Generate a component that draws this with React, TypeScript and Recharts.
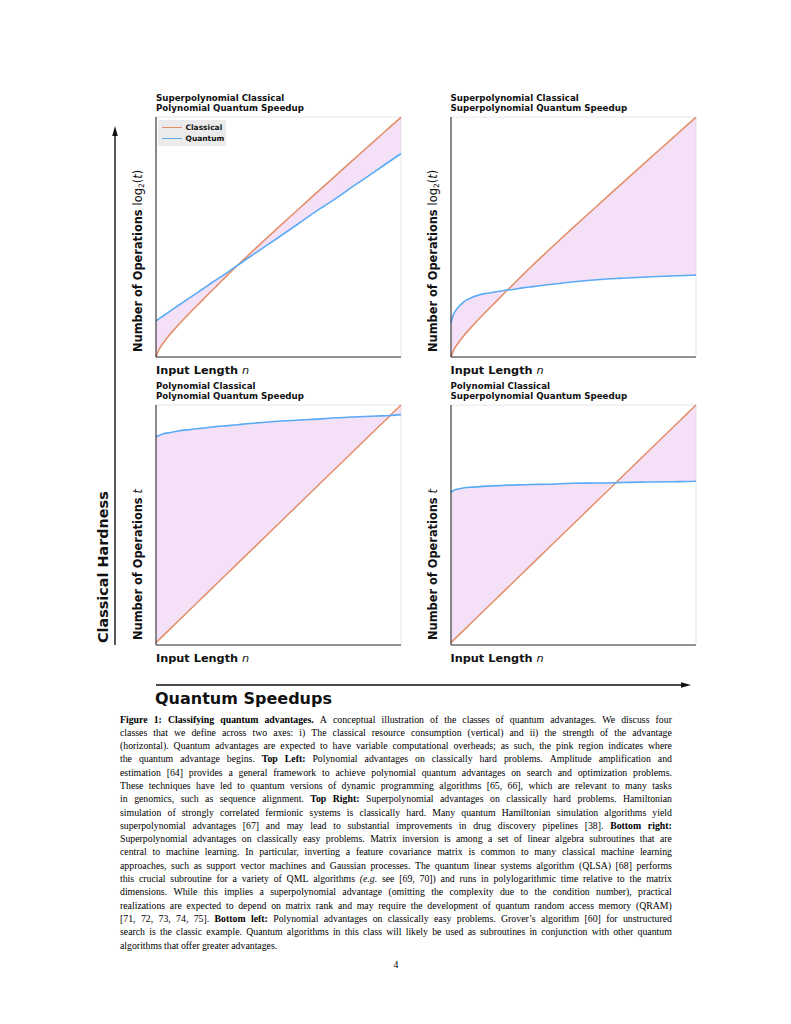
import React from 'react';
import { Area, CartesianGrid, ComposedChart, Line, XAxis, YAxis } from 'recharts';

const nValues = [0.05, 0.1, 0.2, 0.3, 0.5, 0.75, 1, 1.19, 1.25, 1.5, 1.7, 2, 2.5, 3, 3.38, 3.5, 4, 4.5, 4.78, 5];

// top row: log2(t)
const classicalLog = [0.11, 0.32, 0.57, 0.78, 1.14, 1.56, 1.96, 2.27, 2.36, 2.76, 3.07, 3.52, 4.26, 4.98, 5.53, 5.7, 6.42, 7.13, 7.53, 7.84];
const quantumPolyLog = [1.28, 1.33, 1.44, 1.55, 1.77, 2.04, 2.31, 2.52, 2.58, 2.85, 3.07, 3.4, 3.94, 4.49, 4.91, 5.03, 5.58, 6.12, 6.43, 6.67];
const quantumSuperLog = [1.23, 1.48, 1.72, 1.88, 2.05, 2.16, 2.22, 2.27, 2.28, 2.34, 2.38, 2.44, 2.53, 2.6, 2.64, 2.65, 2.69, 2.72, 2.74, 2.75];

// bottom row: t
const classicalLinear = [0.05, 0.1, 0.2, 0.3, 0.5, 0.75, 1, 1.19, 1.25, 1.5, 1.7, 2, 2.5, 3, 3.38, 3.5, 4, 4.5, 4.78, 5];
const quantumPolyT = [4.34, 4.36, 4.4, 4.42, 4.46, 4.49, 4.52, 4.54, 4.55, 4.57, 4.59, 4.62, 4.66, 4.69, 4.71, 4.72, 4.75, 4.77, 4.78, 4.8];
const quantumSuperT = [3.18, 3.22, 3.25, 3.27, 3.29, 3.31, 3.32, 3.33, 3.33, 3.34, 3.345, 3.35, 3.37, 3.375, 3.38, 3.385, 3.395, 3.4, 3.405, 3.41];

const xTicks = [1, 2, 3, 4, 5];
const logTicks = [1, 2, 3, 4, 5, 6, 7];
const linTicks = [1, 2, 3, 4];

const panelTitles = [
  ['Superpolynomial Classical', 'Polynomial Quantum Speedup'],
  ['Superpolynomial Classical', 'Superpolynomial Quantum Speedup'],
  ['Polynomial Classical', 'Polynomial Quantum Speedup'],
  ['Polynomial Classical', 'Superpolynomial Quantum Speedup'],
];

const legendLabels = ['Classical', 'Quantum'];

type Seg = [string, string];
const captionLines: Seg[][] = [
  [['b', 'Figure 1: Classifying quantum advantages.'], ['', 'A conceptual illustration of the classes of quantum advantages. We discuss four']],
  [['', 'classes that we define across two axes: i) The classical resource consumption (vertical) and ii) the strength of the advantage']],
  [['', '(horizontal). Quantum advantages are expected to have variable computational overheads; as such, the pink region indicates where']],
  [['', 'the quantum advantage begins.'], ['b', 'Top Left:'], ['', 'Polynomial advantages on classically hard problems. Amplitude amplification and']],
  [['', 'estimation [64] provides a general framework to achieve polynomial quantum advantages on search and optimization problems.']],
  [['', 'These techniques have led to quantum versions of dynamic programming algorithms [65, 66], which are relevant to many tasks']],
  [['', 'in genomics, such as sequence alignment.'], ['b', 'Top Right:'], ['', 'Superpolynomial advantages on classically hard problems. Hamiltonian']],
  [['', 'simulation of strongly correlated fermionic systems is classically hard. Many quantum Hamiltonian simulation algorithms yield']],
  [['', 'superpolynomial advantages [67] and may lead to substantial improvements in drug discovery pipelines [38].'], ['b', 'Bottom right:']],
  [['', 'Superpolynomial advantages on classically easy problems. Matrix inversion is among a set of linear algebra subroutines that are']],
  [['', 'central to machine learning. In particular, inverting a feature covariance matrix is common to many classical machine learning']],
  [['', 'approaches, such as support vector machines and Gaussian processes. The quantum linear systems algorithm (QLSA) [68] performs']],
  [['', 'this crucial subroutine for a variety of QML algorithms'], ['i', '(e.g.'], ['', 'see [69, 70]) and runs in polylogarithmic time relative to the matrix']],
  [['', 'dimensions. While this implies a superpolynomial advantage (omitting the complexity due to the condition number), practical']],
  [['', 'realizations are expected to depend on matrix rank and may require the development of quantum random access memory (QRAM)']],
  [['', '[71, 72, 73, 74, 75].'], ['b', 'Bottom left:'], ['', 'Polynomial advantages on classically easy problems. Grover\u2019s algorithm [60] for unstructured']],
  [['', 'search is the classic example. Quantum algorithms in this class will likely be used as subroutines in conjunction with other quantum']],
  [['', 'algorithms that offer greater advantages.']],
];

const CLASSICAL = '#e3906a';
const QUANTUM = '#5aaaf5';
const ADVANTAGE = '#ecc4f0';
const SANS = '"DejaVu Sans", sans-serif';

function buildRows(classical: number[], quantum: number[]) {
  return nValues.map((n, i) => ({
    n,
    classical: classical[i],
    quantum: quantum[i],
    band: [Math.min(classical[i], quantum[i]), Math.max(classical[i], quantum[i])],
  }));
}

interface PanelProps {
  left: number;
  top: number;
  classical: number[];
  quantum: number[];
  yDomain: [number, number];
  yTicks: number[];
}

function Panel({ left, top, classical, quantum, yDomain, yTicks }: PanelProps) {
  const rows = buildRows(classical, quantum);
  return (
    <div style={{ position: 'absolute', left: left - 6, top: top - 5 }}>
      <ComposedChart width={256} height={251} data={rows} margin={{ top: 5, right: 5, bottom: 0, left: 0 }}>
        <CartesianGrid stroke="#e0e0e0" strokeWidth={0.8} />
        <XAxis
          dataKey="n"
          type="number"
          domain={[0.05, 5]}
          ticks={xTicks}
          height={6}
          tickSize={3}
          tick={false}
          axisLine={{ stroke: '#333' }}
          tickLine={{ stroke: '#333' }}
        />
        <YAxis
          type="number"
          domain={yDomain}
          ticks={yTicks}
          width={6}
          tickSize={3}
          tick={false}
          axisLine={{ stroke: '#222' }}
          tickLine={{ stroke: '#333' }}
        />
        <Area
          dataKey="band"
          type="monotone"
          stroke="none"
          fill={ADVANTAGE}
          fillOpacity={0.5}
          dot={false}
          activeDot={false}
          isAnimationActive={false}
        />
        <Line dataKey="classical" type="monotone" stroke={CLASSICAL} strokeWidth={1.6} dot={false} isAnimationActive={false} />
        <Line dataKey="quantum" type="monotone" stroke={QUANTUM} strokeWidth={1.6} dot={false} isAnimationActive={false} />
      </ComposedChart>
    </div>
  );
}

function Legend() {
  const colors = [CLASSICAL, QUANTUM];
  return (
    <div
      style={{
        position: 'absolute',
        left: 158,
        top: 120,
        width: 68,
        height: 26,
        background: 'rgba(232,232,232,0.85)',
        borderRadius: 2,
        fontFamily: SANS,
        fontWeight: 'bold',
        fontSize: 7.5,
        color: '#111',
      }}
    >
      {legendLabels.map((label, i) => (
        <div key={label} style={{ position: 'absolute', left: 3.5, top: 2.5 + i * 11, height: 10, display: 'flex', alignItems: 'center' }}>
          <span style={{ display: 'inline-block', width: 20, height: 1.5, background: colors[i], marginRight: 4 }} />
          {label}
        </div>
      ))}
    </div>
  );
}

function Caption() {
  return (
    <div
      style={{
        position: 'absolute',
        left: 120,
        top: 712.5,
        width: 552,
        fontFamily: '"Liberation Serif", "Times New Roman", serif',
        fontSize: 9.8,
        lineHeight: '13.3px',
        color: '#000',
      }}
    >
      {captionLines.map((line, li) => {
        const words: { w: string; s: string }[] = [];
        line.forEach(([s, text]) => text.split(' ').forEach((w) => words.push({ w, s })));
        const last = li === captionLines.length - 1;
        return (
          <div
            key={li}
            style={{
              display: 'flex',
              justifyContent: last ? 'flex-start' : 'space-between',
              gap: '0.22em',
              height: 13.3,
              whiteSpace: 'nowrap',
            }}
          >
            {words.map((item, wi) => (
              <span
                key={wi}
                style={{ fontWeight: item.s === 'b' ? 'bold' : 'normal', fontStyle: item.s === 'i' ? 'italic' : 'normal' }}
              >
                {item.w}
              </span>
            ))}
          </div>
        );
      })}
    </div>
  );
}

function YLabel({ x, y, log }: { x: number; y: number; log: boolean }) {
  return (
    <text x={x} y={y} transform={`rotate(-90 ${x} ${y})`} fontFamily={SANS} fontSize={11.4} fill="#111">
      <tspan fontWeight="bold">Number of Operations </tspan>
      {log ? (
        <>
          <tspan>log</tspan>
          <tspan fontSize={7.5} dy={2}>2</tspan>
          <tspan dy={-2}>(</tspan>
          <tspan fontStyle="italic">t</tspan>
          <tspan>)</tspan>
        </>
      ) : (
        <tspan fontStyle="italic">t</tspan>
      )}
    </text>
  );
}

function XLabel({ x, y }: { x: number; y: number }) {
  return (
    <text x={x} y={y} fontFamily={SANS} fontSize={11.3} fill="#111">
      <tspan fontWeight="bold">Input Length </tspan>
      <tspan fontStyle="italic">n</tspan>
    </text>
  );
}

function Title({ x, y, lines }: { x: number; y: number; lines: string[] }) {
  return (
    <text x={x} y={y} fontFamily={SANS} fontSize={8.7} fontWeight="bold" fill="#111">
      <tspan x={x}>{lines[0]}</tspan>
      <tspan x={x} dy={10}>{lines[1]}</tspan>
    </text>
  );
}

export default function App() {
  const colX = [156, 450.5];
  const rowY = [117, 404.5];
  return (
    <div style={{ position: 'absolute', left: 0, top: 0, width: 791, height: 1024, background: '#fff' }}>
      <svg width={791} height={1024} style={{ position: 'absolute', left: 0, top: 0 }}>
        <Title x={colX[0]} y={101.3} lines={panelTitles[0]} />
        <Title x={colX[1]} y={101.3} lines={panelTitles[1]} />
        <Title x={colX[0]} y={389.3} lines={panelTitles[2]} />
        <Title x={colX[1]} y={389.3} lines={panelTitles[3]} />

        <YLabel x={141.5} y={352} log />
        <YLabel x={436.5} y={352} log />
        <YLabel x={141.5} y={640} log={false} />
        <YLabel x={436.5} y={640} log={false} />

        <XLabel x={colX[0]} y={374.3} />
        <XLabel x={colX[1]} y={374.3} />
        <XLabel x={colX[0]} y={661.8} />
        <XLabel x={colX[1]} y={661.8} />

        <line x1={115} y1={645} x2={115} y2={134} stroke="#111" strokeWidth={1.4} />
        <polygon points="115,126 112.2,136 117.8,136" fill="#111" />
        <text x={108.3} y={643} transform="rotate(-90 108.3 643)" fontFamily={SANS} fontSize={14.4} fontWeight="bold" fill="#111">
          Classical Hardness
        </text>

        <line x1={156} y1={685} x2={683} y2={685} stroke="#111" strokeWidth={1.4} />
        <polygon points="691,685 681,682.2 681,687.8" fill="#111" />
        <text x={155} y={704} fontFamily={SANS} fontSize={16} fontWeight="bold" fill="#111">
          Quantum Speedups
        </text>

        <text x={396} y={968} textAnchor="middle" fontFamily='"Liberation Serif", serif' fontSize={9.8} fill="#000">
          4
        </text>
      </svg>

      <Panel left={colX[0]} top={rowY[0]} classical={classicalLog} quantum={quantumPolyLog} yDomain={[0.11, 7.85]} yTicks={logTicks} />
      <Panel left={colX[1]} top={rowY[0]} classical={classicalLog} quantum={quantumSuperLog} yDomain={[0.11, 7.85]} yTicks={logTicks} />
      <Panel left={colX[0]} top={rowY[1]} classical={classicalLinear} quantum={quantumPolyT} yDomain={[0, 5]} yTicks={linTicks} />
      <Panel left={colX[1]} top={rowY[1]} classical={classicalLinear} quantum={quantumSuperT} yDomain={[0, 5]} yTicks={linTicks} />

      <Legend />
      <Caption />
    </div>
  );
}
